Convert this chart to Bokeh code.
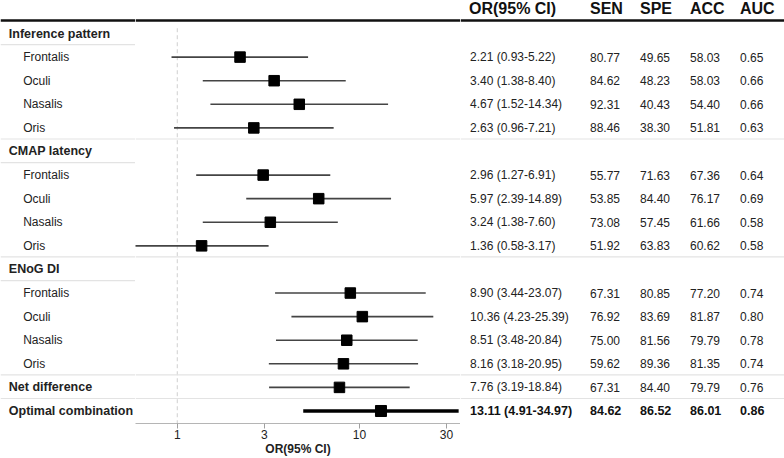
from bokeh.plotting import figure
from bokeh.layouts import row
from bokeh.models import Range1d, FixedTicker, LinearAxis, ColumnDataSource, Span
from bokeh.embed import file_html
from bokeh.resources import INLINE
from bokeh.core.properties import value

# ---------------- data ----------------
group_names = ["Inference pattern", "CMAP latency", "ENoG DI"]
muscles = ["Frontalis", "Oculi", "Nasalis", "Oris"]
summary_names = ["Net difference", "Optimal combination"]

or_vals = [2.21, 3.40, 4.67, 2.63, 2.96, 5.97, 3.24, 1.36, 8.90, 10.36, 8.51, 8.16, 7.76, 13.11]
ci_lo = [0.93, 1.38, 1.52, 0.96, 1.27, 2.39, 1.38, 0.58, 3.44, 4.23, 3.48, 3.18, 3.19, 4.91]
ci_hi = [5.22, 8.40, 14.34, 7.21, 6.91, 14.89, 7.60, 3.17, 23.07, 25.39, 20.84, 20.95, 18.84, 34.97]
sen = [80.77, 84.62, 92.31, 88.46, 55.77, 53.85, 73.08, 51.92, 67.31, 76.92, 75.00, 59.62, 67.31, 84.62]
spe = [49.65, 48.23, 40.43, 38.30, 71.63, 84.40, 57.45, 63.83, 80.85, 83.69, 81.56, 89.36, 84.40, 86.52]
acc = [58.03, 58.03, 54.40, 51.81, 67.36, 76.17, 61.66, 60.62, 77.20, 81.87, 79.79, 81.35, 79.79, 86.01]
auc = [0.65, 0.66, 0.66, 0.63, 0.64, 0.69, 0.58, 0.58, 0.74, 0.80, 0.78, 0.74, 0.76, 0.86]

col_headers = ["OR(95% CI)", "SEN", "SPE", "ACC", "AUC"]
tick_vals = [1, 3, 10, 30]
tick_labels = ["1", "3", "10", "30"]
axis_title = "OR(95% CI)"
ref_value = 1.0

# ---------------- row layout ----------------
group_y = []
item_y = []
item_labels = []
yy = 0
for g in group_names:
    group_y.append(yy)
    yy += 1
    for m in muscles:
        item_y.append(yy)
        item_labels.append(m)
        yy += 1
summary_y = []
for s in summary_names:
    summary_y.append(yy)
    item_y.append(yy)
    item_labels.append(s)
    yy += 1

n_reg = len(item_y) - 1  # last row (optimal) drawn bold

FONT = "Liberation Sans"
TXT = "#222222"
SEP = "#e3e3e3"
H = 458
Y_TOP = -1.40
Y_BOT = 16.53
header_y = -1.05
top_rule_y = -0.555

full_seps = [group_y[1] - 0.53, group_y[2] - 0.53, summary_y[0] - 0.53, summary_y[1] - 0.53]
left_seps = [g + 0.47 for g in group_y]

y_range = Range1d(start=Y_BOT, end=Y_TOP)


def base_fig(width, x_range):
    p = figure(width=width, height=H, x_range=x_range, y_range=y_range,
               x_axis_type=None, y_axis_type=None, toolbar_location=None,
               output_backend="svg", min_border_left=0, min_border_right=0,
               min_border_top=0, min_border_bottom=0)
    p.outline_line_color = None
    p.background_fill_color = "white"
    p.border_fill_color = "white"
    p.xgrid.visible = False
    p.ygrid.visible = False
    return p


def style_axis(ax, visible):
    ax.major_tick_out = 5
    ax.major_tick_in = 0
    ax.minor_tick_line_color = None
    ax.major_label_standoff = 1
    ax.axis_label_standoff = 0
    ax.major_label_text_font = FONT
    ax.major_label_text_font_size = "12px"
    ax.axis_label_text_font = FONT
    ax.axis_label_text_font_size = "12px"
    ax.axis_label_text_font_style = "bold"
    ax.axis_label = axis_title
    if visible:
        ax.axis_line_color = "#b5b5b5"
        ax.major_tick_line_color = "#a0a0a0"
        ax.major_label_text_color = TXT
        ax.axis_label_text_color = TXT
    else:
        ax.axis_line_alpha = 0
        ax.major_tick_line_alpha = 0
        ax.major_label_text_alpha = 0
        ax.axis_label_text_alpha = 0


def add_rules(p):
    p.add_layout(Span(location=top_rule_y, dimension="width", line_color="#111111", line_width=2.5))
    for s in full_seps:
        p.add_layout(Span(location=s, dimension="width", line_color=SEP, line_width=1.2))


# ---------------- left: labels ----------------
left = base_fig(135, Range1d(0, 135))
add_rules(left)
for s in left_seps:
    left.add_layout(Span(location=s, dimension="width", line_color=SEP, line_width=1.2))
lax = LinearAxis(ticker=FixedTicker(ticks=[70]))
style_axis(lax, False)
left.add_layout(lax, "below")

left.text(x=[8.3] * len(group_y), y=group_y, text=group_names, text_font=value(FONT),
          text_font_size="12.5px", text_font_style="bold", text_color=TXT, text_baseline="middle")
sub_n = len(group_names) * len(muscles)
left.text(x=[22.7] * sub_n, y=item_y[:sub_n], text=item_labels[:sub_n], text_font=value(FONT),
          text_font_size="12px", text_color=TXT, text_baseline="middle")
left.text(x=[8.3] * len(summary_y), y=summary_y, text=summary_names, text_font=value(FONT),
          text_font_size="12.5px", text_font_style="bold", text_color=TXT, text_baseline="middle")

# ---------------- middle: forest ----------------
mid = figure(width=325, height=H, x_range=Range1d(0.59, 35.8), y_range=y_range,
             x_axis_type="log", y_axis_type=None, toolbar_location=None,
             output_backend="svg", min_border_left=0, min_border_right=0,
             min_border_top=0, min_border_bottom=0)
mid.outline_line_color = None
mid.border_fill_color = "white"
mid.xgrid.visible = False
mid.ygrid.visible = False
ax = mid.xaxis[0]
ax.ticker = FixedTicker(ticks=tick_vals)
ax.major_label_overrides = {v: l for v, l in zip(tick_vals, tick_labels)}
style_axis(ax, True)
add_rules(mid)

mid.segment(x0=[ref_value], y0=[top_rule_y + 0.33], x1=[ref_value], y1=[Y_BOT],
            line_color="#cfcfcf", line_width=1, line_dash="4 3")

reg = ColumnDataSource(dict(y=item_y[:n_reg], o=or_vals[:n_reg], lo=ci_lo[:n_reg], hi=ci_hi[:n_reg]))
best = ColumnDataSource(dict(y=item_y[n_reg:], o=or_vals[n_reg:], lo=ci_lo[n_reg:], hi=ci_hi[n_reg:]))
mid.segment(x0="lo", y0="y", x1="hi", y1="y", source=reg, line_color="#444444", line_width=1.6)
mid.segment(x0="lo", y0="y", x1="hi", y1="y", source=best, line_color="#000000", line_width=3.5)
mid.scatter(x="o", y="y", source=reg, marker="square", size=10.5, fill_color="black", line_color="black")
mid.scatter(x="o", y="y", source=best, marker="square", size=11, fill_color="black", line_color="black")

# ---------------- right: table ----------------
right = base_fig(324, Range1d(460, 784))
add_rules(right)
rax = LinearAxis(ticker=FixedTicker(ticks=[600]))
style_axis(rax, False)
right.add_layout(rax, "below")

col_x = [469.5, 589.5, 639.5, 689.5, 739.5]
right.text(x=[468.5, 589.5, 639.5, 689.5, 739.5], y=[header_y] * 5, text=col_headers,
           text_font=value(FONT), text_font_size="16px", text_font_style="bold",
           text_color="#111111", text_baseline="middle")

or_txt = [f"{o:.2f} ({l:.2f}-{h:.2f})" for o, l, h in zip(or_vals, ci_lo, ci_hi)]
cols = [or_txt,
        [f"{v:.2f}" for v in sen],
        [f"{v:.2f}" for v in spe],
        [f"{v:.2f}" for v in acc],
        [f"{v:.2f}" for v in auc]]
for cx, ctext in zip(col_x, cols):
    right.text(x=[cx] * n_reg, y=item_y[:n_reg], text=ctext[:n_reg], text_font=value(FONT),
               text_font_size="12px", text_color=TXT, text_baseline="middle")
    right.text(x=[cx], y=item_y[n_reg:], text=ctext[n_reg:], text_font=value(FONT),
               text_font_size="12.5px", text_font_style="bold", text_color="#111111",
               text_baseline="middle")

layout = row(left, mid, right, spacing=0)
open("out.html", "w").write(file_html(layout, INLINE))
